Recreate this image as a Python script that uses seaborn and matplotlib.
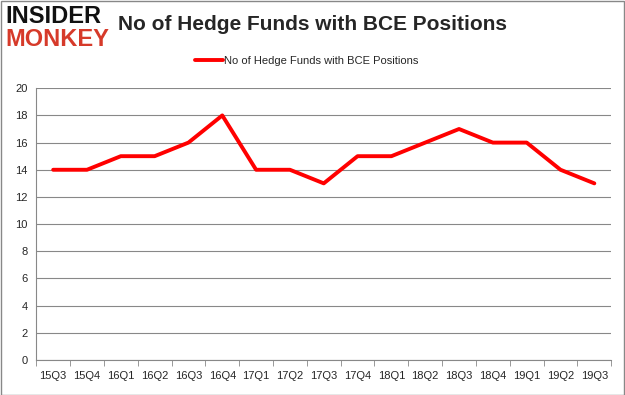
import pandas as pd
import numpy as np
import seaborn as sns
import matplotlib.pyplot as plt
from matplotlib.patches import Rectangle

quarters = ["15Q3", "15Q4", "16Q1", "16Q2", "16Q3", "16Q4", "17Q1", "17Q2", "17Q3",
            "17Q4", "18Q1", "18Q2", "18Q3", "18Q4", "19Q1", "19Q2", "19Q3"]
funds = [14, 14, 15, 15, 16, 18, 14, 14, 13, 15, 15, 16, 17, 16, 16, 14, 13]

df = pd.DataFrame({"quarter": quarters, "funds": funds})
df["pos"] = np.arange(len(df))

sns.set_style("white")
plt.rcParams["font.family"] = ["Liberation Sans", "DejaVu Sans"]

fig = plt.figure(figsize=(6.25, 3.95), dpi=100)
ax = fig.add_axes([0.058, 0.0886, 0.92, 0.688])

sns.lineplot(data=df, x="pos", y="funds", color="#ff0000", linewidth=2.8,
             label="No of Hedge Funds with BCE Positions", ax=ax)

ax.set_xlim(-0.5, len(quarters) - 0.5)
ax.set_ylim(0, 20)
ax.set_yticks(range(0, 21, 2))
ax.set_xticks(df["pos"])
ax.set_xticklabels(quarters, fontsize=8)
ax.set_xticks(np.arange(-0.5, len(quarters), 1), minor=True)
ax.tick_params(axis="x", which="major", length=0, pad=8)
ax.tick_params(axis="x", which="minor", length=4, color="#888888", bottom=True)
ax.tick_params(axis="y", labelsize=8, length=0, pad=6)
ax.yaxis.grid(True, color="#888888", linewidth=0.8)
ax.set_axisbelow(True)
ax.set_xlabel("")
ax.set_ylabel("")
for side in ["top", "right"]:
    ax.spines[side].set_visible(False)
for side in ["left", "bottom"]:
    ax.spines[side].set_color("#888888")
    ax.spines[side].set_linewidth(0.8)

ax.legend(loc="center", bbox_to_anchor=(0.47, 1.1), frameon=False,
          fontsize=8, handlelength=2.5, handletextpad=0.1)

fig.text(0.5, 0.937, "No of Hedge Funds with BCE Positions", ha="center", va="center",
         fontsize=15, fontweight="bold")
fig.text(0.008, 0.958, "INSIDER", ha="left", va="center", fontsize=17,
         fontweight="bold", color="#111111")
fig.text(0.008, 0.9, "MONKEY", ha="left", va="center", fontsize=17,
         fontweight="bold", color="#d63a2a")

fig.patches.append(Rectangle((0.001, 0.001), 0.997, 0.997, transform=fig.transFigure,
                             fill=False, edgecolor="#888888", linewidth=1))

plt.savefig("out.png", dpi=100)
